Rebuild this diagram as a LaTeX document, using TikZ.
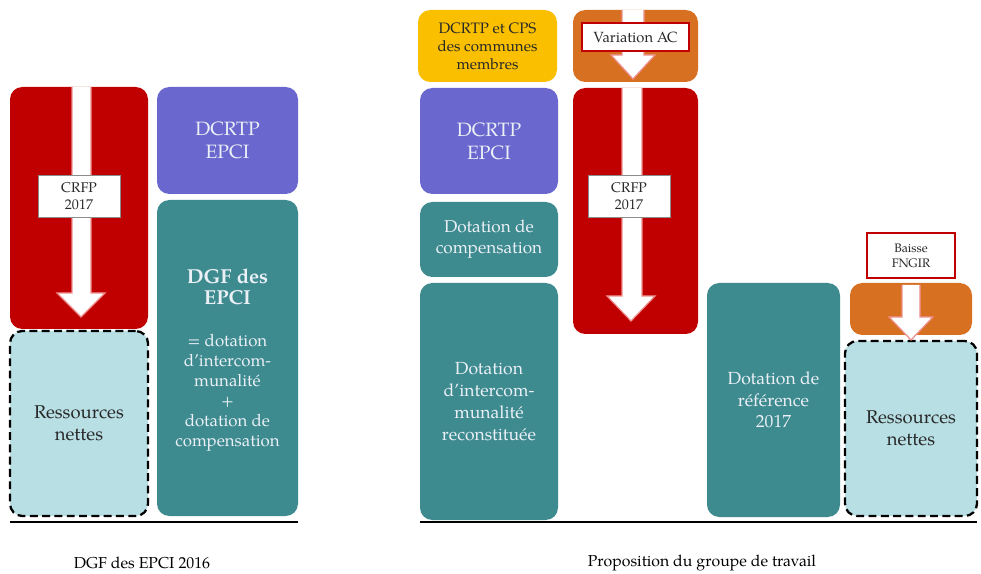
\documentclass[tikz,border=0pt]{standalone}
\usepackage{fontspec}
\setmainfont{texgyrepagella}[Extension=.otf, UprightFont=*-regular, BoldFont=*-bold, ItalicFont=*-italic, BoldItalicFont=*-bolditalic]
\usetikzlibrary{fit}

\definecolor{crfpred}{RGB}{192,0,0}
\definecolor{dcrtppurple}{RGB}{106,103,206}
\definecolor{dotteal}{RGB}{61,138,143}
\definecolor{netcyan}{RGB}{184,223,228}
\definecolor{cpsyellow}{RGB}{250,192,0}
\definecolor{acorange}{RGB}{215,112,32}
\definecolor{paletext}{RGB}{234,240,246}
\definecolor{darktext}{RGB}{40,40,40}
\definecolor{arrowedge}{RGB}{238,140,140}

\begin{document}
\begin{tikzpicture}[x=0.02cm, y=-0.02cm,
  box/.style={rounded corners=7pt, inner sep=0pt, draw=none},
  redbox/.style={box, fill=crfpred},
  purplebox/.style={box, fill=dcrtppurple},
  tealbox/.style={box, fill=dotteal},
  yellowbox/.style={box, fill=cpsyellow},
  orangebox/.style={box, fill=acorange},
  netbox/.style={box, fill=netcyan, draw=black, line width=1.3pt, dash pattern=on 4.5pt off 2.5pt},
  boxtext/.style={inner sep=0pt, align=center, anchor=center},
  paletext/.style={boxtext, text=paletext, font=\fontsize{10}{12.4}\selectfont},
  darkboxtext/.style={boxtext, text=darktext, font=\fontsize{10.5}{12.6}\selectfont},
  tag/.style={fill=white, inner sep=0pt, draw=none},
  plaintag/.style={tag, draw=black!45, line width=0.4pt},
  redtag/.style={tag, draw=crfpred, line width=1.2pt},
  tagtext/.style={boxtext, text=darktext, font=\fontsize{8}{9.6}\selectfont},
  downarrow/.style={fill=white, draw=arrowedge, line width=0.7pt, line join=miter},
  groundline/.style={line width=1.2pt, black},
  caption/.style={font=\fontsize{9}{11}\selectfont, text=black}
]
\useasboundingbox (0,0) rectangle (981,574);

% ---------------- DGF des EPCI 2016 ----------------
\node[redbox, fit={(10,87) (148,329)}] (crfpL) {};
\draw[downarrow] (72,87) -- (72,293) -- (57,293) -- (81,317) -- (105,293) -- (91,293) -- (91,87);
\node[plaintag, fit={(38,175) (120,217)}] (crfpLtag) {};
\node[tagtext] (crfpLtxt) at (crfpLtag.center) {CRFP\\2017};

\node[netbox, fit={(10,331) (148,516)}] (netL) {};
\node[darkboxtext] (netLtxt) at (netL.center) {Ressources\\nettes};

\node[purplebox, fit={(157,87) (298,194)}] (dcrtpL) {};
\node[paletext, font=\fontsize{11}{13}\selectfont] (dcrtpLtxt) at (dcrtpL.center) {DCRTP\\EPCI};

\node[tealbox, fit={(157,200) (298,516)}] (dgfL) {};
\node[paletext, font=\fontsize{9.6}{11.3}\selectfont, yshift=-1pt] (dgfLtxt) at (dgfL.center) {\textbf{\fontsize{11.5}{12}\selectfont DGF des}\\[0.6pt]\textbf{\fontsize{11.5}{12}\selectfont EPCI}\\[13pt]= dotation\\d’intercom-\\munalité\\+\\dotation de\\compensation};

\draw[groundline] (10,522) -- (298,522);
\node[caption] (capL) at (142,563) {DGF des EPCI 2016};

% ---------------- Proposition du groupe de travail ----------------
\node[yellowbox, fit={(418,10) (557,82)}] (cps) {};
\node[boxtext, text=darktext, font=\fontsize{8.6}{10.2}\selectfont] (cpstxt) at (cps.center) {DCRTP et CPS\\des communes\\membres};

\node[orangebox, fit={(573,10) (698,82)}] (varAC) {};
\draw[downarrow] (622,10) -- (622,55) -- (611,55) -- (633,79) -- (655,55) -- (644,55) -- (644,10);
\node[redtag, fit={(582,23) (689,51)}] (varACtag) {};
\node[tagtext, font=\fontsize{8.4}{10}\selectfont] (varACtxt) at (varACtag.center) {Variation AC};

\node[purplebox, fit={(420,88) (558,194)}] (dcrtpR) {};
\node[paletext, font=\fontsize{11}{13}\selectfont] (dcrtpRtxt) at (dcrtpR.center) {DCRTP\\EPCI};

\node[tealbox, fit={(420,202) (558,277)}] (compR) {};
\node[paletext, font=\fontsize{9.8}{12}\selectfont] (compRtxt) at (compR.center) {Dotation de\\compensation};

\node[tealbox, fit={(420,283) (558,520)}] (interR) {};
\node[paletext] (interRtxt) at (interR.center) {Dotation\\d’intercom-\\munalité\\reconstituée};

\node[redbox, fit={(573,88) (698,334)}] (crfpR) {};
\draw[downarrow] (622,88) -- (622,296) -- (607,296) -- (631,321) -- (655,296) -- (642,296) -- (642,88);
\node[plaintag, fit={(588,175) (670,217)}] (crfpRtag) {};
\node[tagtext] (crfpRtxt) at (crfpRtag.center) {CRFP\\2017};

\node[tealbox, fit={(707,283) (840,517)}] (refR) {};
\node[paletext] (refRtxt) at (refR.center) {Dotation de\\référence\\2017};

\node[orangebox, fit={(850,283) (972,335)}] (fngir) {};
\node[netbox, fit={(845,341) (977,516)}] (netR) {};
\node[darkboxtext] (netRtxt) at (netR.center) {Ressources\\nettes};
\draw[downarrow] (902,285) -- (902,317) -- (889,317) -- (911,340) -- (933,317) -- (920,317) -- (920,285);
\node[redtag, fit={(867,233) (955,278)}] (fngirtag) {};
\node[tagtext, font=\fontsize{7}{8.6}\selectfont] (fngirtxt) at (fngirtag.center) {Baisse\\FNGIR};

\draw[groundline] (420,522) -- (977,522);
\node[caption] (capR) at (702,563) {Proposition du groupe de travail};
\end{tikzpicture}
\end{document}
